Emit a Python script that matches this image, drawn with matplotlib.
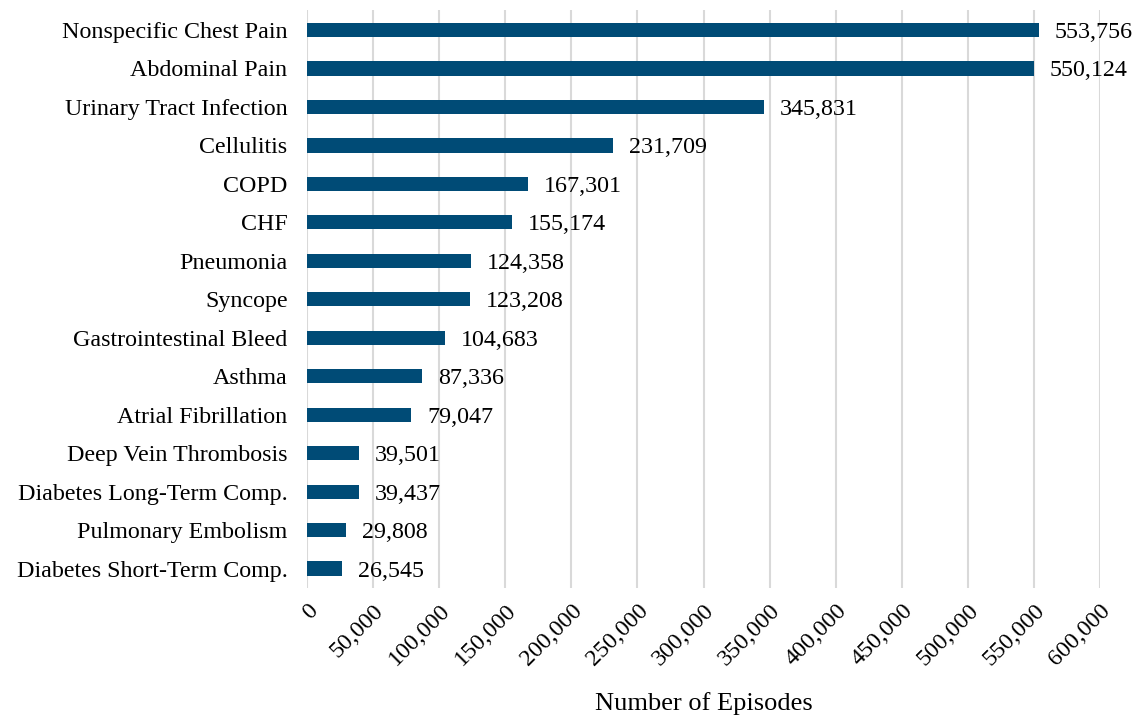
import matplotlib
matplotlib.use("Agg")
import matplotlib.pyplot as plt
from matplotlib.ticker import FuncFormatter, MultipleLocator

# Data
conditions = [
    "Nonspecific Chest Pain", "Abdominal Pain", "Urinary Tract Infection",
    "Cellulitis", "COPD", "CHF", "Pneumonia", "Syncope",
    "Gastrointestinal Bleed", "Asthma", "Atrial Fibrillation",
    "Deep Vein Thrombosis", "Diabetes Long-Term Comp.",
    "Pulmonary Embolism", "Diabetes Short-Term Comp.",
]
episodes = [553756, 550124, 345831, 231709, 167301, 155174, 124358, 123208,
            104683, 87336, 79047, 39501, 39437, 29808, 26545]

BAR_COLOR = "#004b76"
FS = 17.3
plt.rcParams["font.family"] = ["Liberation Serif", "DejaVu Serif"]

fig = plt.figure(figsize=(11.37, 7.16), dpi=100)
ax = fig.add_axes([0.270, 0.179, 0.6975, 0.807])

ypos = list(range(len(conditions)))
ax.barh(ypos, episodes, height=0.37, color=BAR_COLOR, zorder=3)
for y, v in zip(ypos, episodes):
    ax.text(v + 12000, y, f"{v:,}", va="center_baseline", ha="left", fontsize=FS)

ax.set_yticks(ypos)
ax.set_yticklabels(conditions, fontsize=FS)
ax.set_ylim(14.5, -0.52)
ax.set_xlim(0, 600000)
ax.xaxis.set_major_locator(MultipleLocator(50000))
ax.xaxis.set_major_formatter(FuncFormatter(lambda x, p: f"{int(x):,}"))
plt.setp(ax.get_xticklabels(), rotation=45, ha="right", rotation_mode="anchor", fontsize=FS)
ax.tick_params(axis="both", length=0)
ax.tick_params(axis="x", pad=9)
ax.tick_params(axis="y", pad=14)
ax.grid(axis="x", color="#d9d9d9", linewidth=1.5, zorder=0)
for s in ax.spines.values():
    s.set_visible(False)
ax.set_xlabel("Number of Episodes", fontsize=19, labelpad=16)

fig.savefig("out.png", dpi=100)
